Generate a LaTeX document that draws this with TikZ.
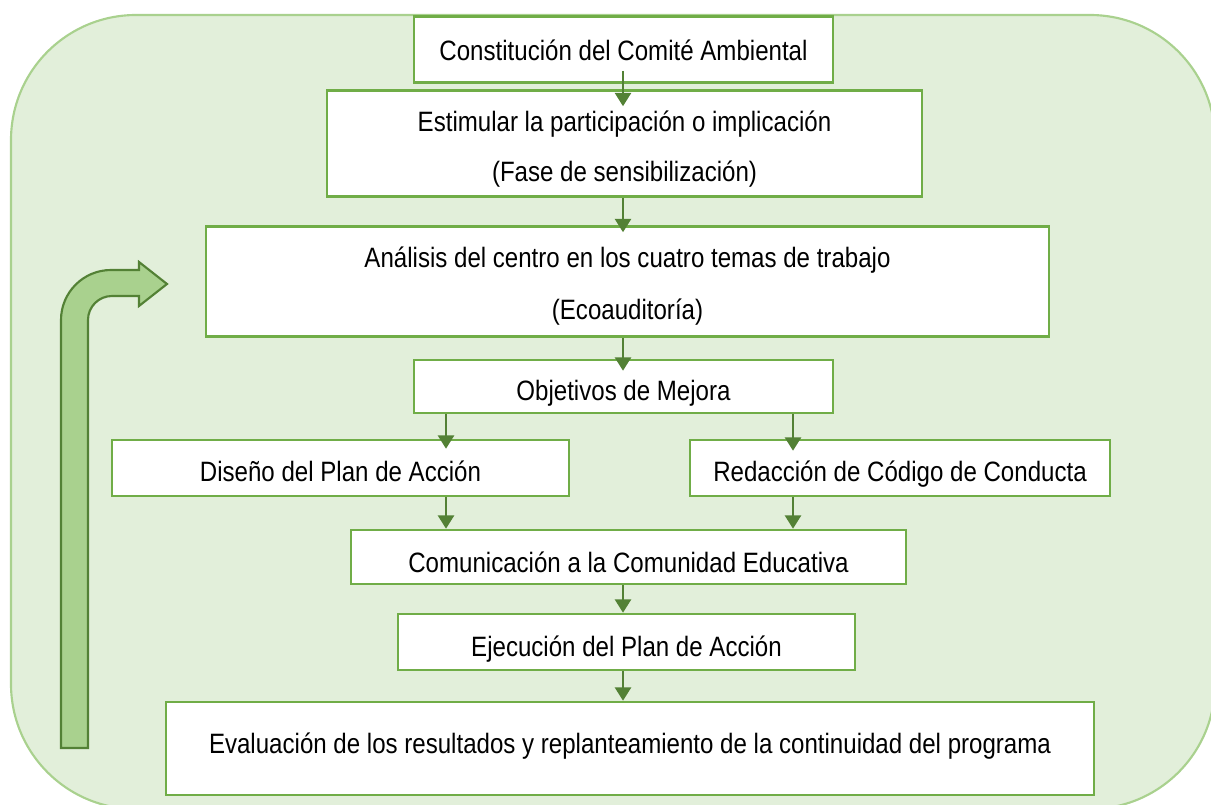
\documentclass[tikz,border=0pt]{standalone}
\usepackage{fontspec}
\setmainfont{Liberation Sans}[FakeStretch=0.86]
\usetikzlibrary{arrows.meta}
\definecolor{bgfill}{HTML}{E2EFDA}
\definecolor{bgline}{HTML}{A9D18E}
\definecolor{boxline}{HTML}{70AD47}
\definecolor{arrline}{HTML}{538135}
\definecolor{bentfill}{HTML}{A9D18E}
\tikzset{
  stepbox/.style={draw=boxline, fill=white, line width=1.9pt, inner sep=0pt,
    font=\fontsize{21pt}{37.5pt}\selectfont},
  lowered/.style={text height=#1, text depth=0pt},
  twoline/.style 2 args={align=center, text height=#1, text depth=0pt,
    font=\fontsize{21pt}{#2}\selectfont},
  conn/.style={draw=arrline, line width=1.9pt,
    -{Triangle[width=12pt,length=10pt]}},
}
\begin{document}
\begin{tikzpicture}[x=0.75pt,y=-0.75pt]
\clip (0,0) rectangle (1211,805);
% background panel
\draw[fill=bgfill, draw=bgline, line width=1.6pt, rounded corners=93.75pt]
  (11,15) rectangle (1215,809);
% bent feedback arrow
\draw[fill=bentfill, draw=arrline, line width=1.6pt, line join=miter]
  (61,748) -- (61,320) .. controls (61,292.4) and (83.4,270) .. (111,270)
  -- (139,270) -- (139,262) -- (167,284) -- (139,306) -- (139,296)
  -- (112,296) .. controls (98.7,296) and (88,306.7) .. (88,320)
  -- (88,748) -- cycle;
% boxes
\node[stepbox, lowered=16.5pt, minimum width=314.25pt, minimum height=49.5pt] (b1) at (623.5,49.5)
  {Constitución del Comité Ambiental};
\node[stepbox, twoline={57.75pt}{37.5pt}, minimum width=446.25pt, minimum height=79.5pt] (b2) at (624.5,143.5)
  {Estimular la participación o implicación\\(Fase de sensibilización)};
\node[stepbox, twoline={57.75pt}{39pt}, minimum width=632.25pt, minimum height=82.5pt] (b3) at (627.5,281.5)
  {Análisis del centro en los cuatro temas de trabajo\\(Ecoauditoría)};
\node[stepbox, lowered=21.75pt, minimum width=314.25pt, minimum height=39.75pt] (b4) at (623.5,386.5)
  {Objetivos de Mejora};
\node[stepbox, lowered=21pt, minimum width=342.75pt, minimum height=42pt] (b5) at (340.5,468)
  {Diseño del Plan de Acción};
\node[stepbox, lowered=21pt, minimum width=315pt, minimum height=42pt] (b6) at (900,468)
  {Redacción de Código de Conducta};
\node[stepbox, lowered=22.5pt, minimum width=416.25pt, minimum height=40.5pt] (b7) at (628.5,557)
  {Comunicación a la Comunidad Educativa};
\node[stepbox, lowered=21pt, minimum width=342.75pt, minimum height=42pt] (b8) at (626.5,642)
  {Ejecución del Plan de Acción};
\node[stepbox, lowered=6.75pt, minimum width=696pt, minimum height=69.75pt] (b9) at (630,748.5)
  {Evaluación de los resultados y replanteamiento de la continuidad del programa};
% column references
\coordinate (cm) at (623,0);
\coordinate (cl) at (446,0);
\coordinate (cr) at (793,0);
% connectors
\draw[conn] ([yshift=9.75pt]b1.south -| cm) -- ([yshift=-12.75pt]b2.north -| cm);
\draw[conn] (b2.south -| cm) -- ([yshift=-5.25pt]b3.north -| cm);
\draw[conn] (b3.south -| cm) -- ([yshift=-9pt]b4.north -| cm);
\draw[conn] (b4.south -| cl) -- ([yshift=-7.5pt]b5.north -| cl);
\draw[conn] (b4.south -| cr) -- ([yshift=-9pt]b6.north -| cr);
\draw[conn] (b5.south -| cl) -- (b7.north -| cl);
\draw[conn] (b6.south -| cr) -- (b7.north -| cr);
\draw[conn] (b7.south -| cm) -- (b8.north -| cm);
\draw[conn] (b8.south -| cm) -- (b9.north -| cm);
\end{tikzpicture}
\end{document}
